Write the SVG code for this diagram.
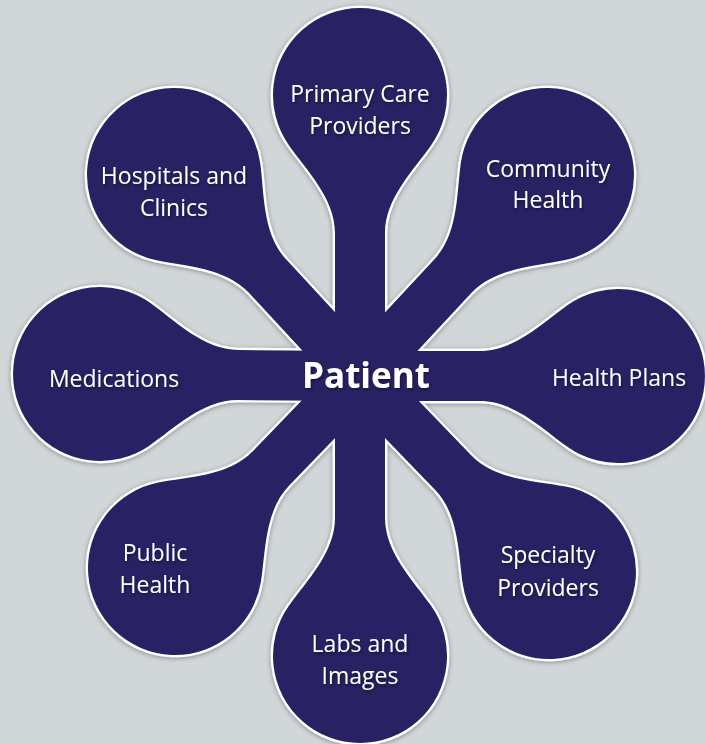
<svg xmlns="http://www.w3.org/2000/svg" xmlns:xlink="http://www.w3.org/1999/xlink" width="705" height="744" viewBox="0 0 705 744">
<defs>
<style>
.edge{fill:#282163;stroke:#ffffff;stroke-width:4.5;stroke-linejoin:round}
.petal{fill:#282163}
.lbl{font-family:"Open Sans","Noto Sans","Liberation Sans",sans-serif;font-size:23px;fill:#ffffff;text-anchor:middle;filter:url(#tshadow)}
.hubt{font-family:"Open Sans","Noto Sans","Liberation Sans",sans-serif;font-size:35px;font-weight:bold;fill:#ffffff;text-anchor:middle;filter:url(#tshadow)}
</style>
<filter id="halo" x="-10%" y="-10%" width="120%" height="120%">
<feDropShadow dx="0" dy="1" stdDeviation="2.5" flood-color="#000000" flood-opacity="0.35"/>
</filter>
<filter id="tshadow" x="-20%" y="-40%" width="140%" height="180%">
<feDropShadow dx="1" dy="1.5" stdDeviation="1.5" flood-color="#000000" flood-opacity="0.45"/>
</filter>
<path id="petal" d="M-25,285 L-25,138 C-25,103 -54.1,74.5 -71.3,49.9 A87,87 0 1 1 71.3,49.9 C54.1,74.5 25,103 25,138 L25,285 Z"/>
</defs>
<rect width="705" height="744" fill="#d1d6d9"/>
<g id="outline" filter="url(#halo)">
<use href="#petal" class="edge" transform="translate(360,95) rotate(0)"/>
<use href="#petal" class="edge" transform="translate(547,175) rotate(42.93)"/>
<use href="#petal" class="edge" transform="translate(618,376) rotate(90)"/>
<use href="#petal" class="edge" transform="translate(549,572) rotate(136.04)"/>
<use href="#petal" class="edge" transform="translate(360,656) rotate(180)"/>
<use href="#petal" class="edge" transform="translate(175,568) rotate(223.94)"/>
<use href="#petal" class="edge" transform="translate(100,374) rotate(270.44)"/>
<use href="#petal" class="edge" transform="translate(174,175) rotate(-42.78)"/>
</g>
<g id="node-primary-care">
<use href="#petal" class="petal" transform="translate(360,95) rotate(0)"/>
<text class="lbl"><tspan x="360" y="102">Primary Care</tspan><tspan x="360" y="134">Providers</tspan></text>
</g>
<g id="node-community-health">
<use href="#petal" class="petal" transform="translate(547,175) rotate(42.93)"/>
<text class="lbl"><tspan x="548" y="177">Community</tspan><tspan x="548" y="208">Health</tspan></text>
</g>
<g id="node-health-plans">
<use href="#petal" class="petal" transform="translate(618,376) rotate(90)"/>
<text class="lbl" x="619" y="386">Health Plans</text>
</g>
<g id="node-specialty-providers">
<use href="#petal" class="petal" transform="translate(549,572) rotate(136.04)"/>
<text class="lbl"><tspan x="548" y="563">Specialty</tspan><tspan x="548" y="596">Providers</tspan></text>
</g>
<g id="node-labs-images">
<use href="#petal" class="petal" transform="translate(360,656) rotate(180)"/>
<text class="lbl"><tspan x="360" y="652">Labs and</tspan><tspan x="360" y="684">Images</tspan></text>
</g>
<g id="node-public-health">
<use href="#petal" class="petal" transform="translate(175,568) rotate(223.94)"/>
<text class="lbl"><tspan x="155" y="561">Public</tspan><tspan x="155" y="593">Health</tspan></text>
</g>
<g id="node-medications">
<use href="#petal" class="petal" transform="translate(100,374) rotate(270.44)"/>
<text class="lbl" x="114" y="387">Medications</text>
</g>
<g id="node-hospitals-clinics">
<use href="#petal" class="petal" transform="translate(174,175) rotate(-42.78)"/>
<text class="lbl"><tspan x="174" y="184">Hospitals and</tspan><tspan x="174" y="216">Clinics</tspan></text>
</g>
<g id="node-patient">
<circle cx="360" cy="376" r="56" class="petal"/>
<text class="hubt" x="366" y="388">Patient</text>
</g>
</svg>
